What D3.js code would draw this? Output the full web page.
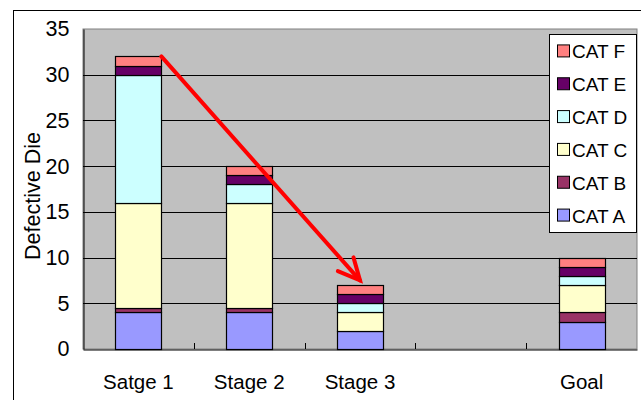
<!DOCTYPE html>
<html><head><meta charset="utf-8">
<script src="https://cdn.jsdelivr.net/npm/d3@7"></script>
<style>body{margin:0;background:#fff}svg{display:block;font-family:"Liberation Sans",Arial,sans-serif}</style>
</head><body>
<svg id="c" width="641" height="400"></svg>
<script>
const categories = ["Satge 1", "Stage 2", "Stage 3", " ", "Goal"];
const seriesNames = ["CAT A", "CAT B", "CAT C", "CAT D", "CAT E", "CAT F"];
const catA = [4, 4, 2, null, 3];
const catB = [0.5, 0.5, 0, null, 1];
const catC = [11.5, 11.5, 2, null, 3];
const catD = [14, 2, 1, null, 1];
const catE = [1, 1, 1, null, 1];
const catF = [1, 1, 1, null, 1];
const colors = ["#9999FF", "#993366", "#FFFFCC", "#CCFFFF", "#660066", "#FF8080"];
const yTicks = [0, 5, 10, 15, 20, 25, 30, 35];
const arrowFrom = {cat: "Satge 1", value: 32};
const arrowTo = {cat: "Stage 3", value: 7.5};

const series = [catA, catB, catC, catD, catE, catF];
const rows = categories.map((c, i) => {
  const r = {cat: c, blank: catA[i] === null};
  seriesNames.forEach((s, j) => r[s] = series[j][i] || 0);
  return r;
});

const svg = d3.select("#c");
const L = 83, R = 637, T = 29, B = 349;
const x = d3.scaleBand().domain(categories).range([L, R]).paddingInner(0.586).paddingOuter(0.293);
const y = d3.scaleLinear().domain([0, 35]).range([B, T]);

// outer chart border
svg.append("rect").attr("x", 13.5).attr("y", 10.5).attr("width", 700).attr("height", 500)
  .attr("fill", "none").attr("stroke", "#000").attr("stroke-width", 1);

// plot area
svg.append("rect").attr("x", L).attr("y", T).attr("width", R - L).attr("height", B - T)
  .attr("fill", "#C0C0C0").attr("stroke", "#808080").attr("stroke-width", 1);

// gridlines
svg.append("g").selectAll("line").data(yTicks.filter(t => t > 0 && t < 35)).join("line")
  .attr("x1", L).attr("x2", R).attr("y1", d => Math.round(y(d)) + 0.5).attr("y2", d => Math.round(y(d)) + 0.5)
  .attr("stroke", "#000").attr("stroke-width", 1);

// stacked bars
const stack = d3.stack().keys(seriesNames)(rows);
const bw = x.bandwidth();
svg.append("g").selectAll("g").data(stack).join("g")
  .attr("fill", (d, i) => colors[i])
  .selectAll("rect").data(d => d.filter(p => !p.data.blank && p[1] - p[0] > 0)).join("rect")
  .attr("x", d => Math.round(x(d.data.cat)) + 0.5)
  .attr("width", Math.round(bw))
  .attr("y", d => Math.round(y(d[1])) + 0.5)
  .attr("height", d => Math.round(y(d[0])) - Math.round(y(d[1])))
  .attr("stroke", "#000").attr("stroke-width", 1.2);

// y axis
const yAxis = d3.axisLeft(y).tickValues(yTicks).tickSize(0).tickPadding(14);
const ya = svg.append("g").attr("transform", `translate(${L + 0.5},0)`).call(yAxis);
ya.select(".domain").attr("stroke", "#000");
ya.selectAll("text").attr("font-size", 21.5).attr("fill", "#000")
  .attr("font-family", "Liberation Sans, Arial, sans-serif");

// x axis
const xAxis = d3.axisBottom(x).tickSize(0).tickPadding(25);
const xa = svg.append("g").attr("transform", `translate(0,${B + 0.5})`).call(xAxis);
xa.select(".domain").attr("stroke", "#000");
xa.selectAll("text").attr("font-size", 20.5).attr("fill", "#000")
  .attr("font-family", "Liberation Sans, Arial, sans-serif");
// category boundary ticks (inside)
const step = x.step();
const bounds = categories.slice(1).map(c => x(c) - step * x.paddingInner() / 2);
svg.append("g").selectAll("line").data(bounds).join("line")
  .attr("x1", d => Math.round(d) + 0.5).attr("x2", d => Math.round(d) + 0.5)
  .attr("y1", B).attr("y2", B - 6).attr("stroke", "#000").attr("stroke-width", 1);

// y title
svg.append("text").attr("transform", `translate(40,${(T + B) / 2 + 7}) rotate(-90)`)
  .attr("text-anchor", "middle").attr("font-size", 21.5).text("Defective Die");

// arrow
const x1 = x(arrowFrom.cat) + bw, y1 = y(arrowFrom.value);
const x2 = x(arrowTo.cat) + bw / 2, y2 = y(arrowTo.value);
const ang = Math.atan2(y2 - y1, x2 - x1);
const ah = 24, spread = 0.45;
const arrow = svg.append("g").attr("stroke", "#FF0000").attr("stroke-width", 4)
  .attr("stroke-linecap", "round").attr("fill", "none");
arrow.append("line").attr("x1", x1).attr("y1", y1).attr("x2", x2).attr("y2", y2);
arrow.append("polyline").attr("points", [
  [x2 - ah * Math.cos(ang - spread), y2 - ah * Math.sin(ang - spread)],
  [x2, y2],
  [x2 - ah * Math.cos(ang + spread), y2 - ah * Math.sin(ang + spread)]
].map(p => p.join(",")).join(" ")).attr("stroke-linejoin", "miter");

// legend
const lg = svg.append("g");
lg.append("rect").attr("x", 549.5).attr("y", 34.5).attr("width", 87).attr("height", 198)
  .attr("fill", "#fff").attr("stroke", "#000").attr("stroke-width", 1);
const legendOrder = seriesNames.map((s, i) => ({s, c: colors[i]})).reverse();
const ly = d3.scaleBand().domain(legendOrder.map(d => d.s)).range([35, 232]);
const items = lg.selectAll("g.item").data(legendOrder).join("g").attr("class", "item")
  .attr("transform", d => `translate(0,${ly(d.s) + ly.bandwidth() / 2})`);
items.append("rect").attr("x", 557.5).attr("y", -6.5).attr("width", 12).attr("height", 12)
  .attr("fill", d => d.c).attr("stroke", "#000").attr("stroke-width", 1);
items.append("text").attr("x", 572).attr("y", 7).attr("font-size", 19).text(d => d.s);
</script>
</body></html>
